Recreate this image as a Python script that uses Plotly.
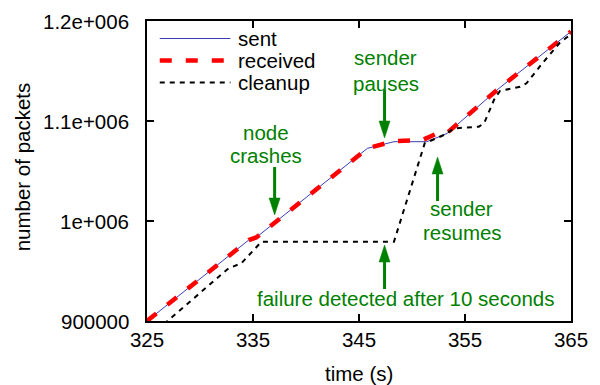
import plotly.graph_objects as go

# ---------------- data ----------------
sent_t = [325, 334.6, 335.3, 345.8, 348.3, 351.4, 353.3, 358.3, 365]
sent_v = [900000, 981000, 983500, 1072700, 1079300, 1079300, 1087500, 1133500, 1189500]

recv_t = [325, 334.6, 335.3, 345.8, 348.3, 351.0, 352.2, 353.3, 358.3, 365]
recv_v = [900000, 981000, 983500, 1072700, 1079800, 1081000, 1086800, 1088000, 1133500, 1189500]

clean_t = [326.6, 332.7, 333.9, 335.8, 348.3, 351.2, 353.0, 354.0, 356.3, 356.8,
           357.8, 358.3, 360.2, 360.8, 362.3, 363.2, 363.9, 365]
clean_v = [897000, 952700, 957700, 979300, 979300, 1077700, 1086000, 1092700, 1094300, 1097700,
           1122700, 1130000, 1134300, 1137700, 1157700, 1169300, 1177700, 1187000]

x_ticks = [325, 335, 345, 355, 365]
y_ticks = [900000, 1000000, 1100000, 1200000]
y_ticktext = ["900000", "1e+006", "1.1e+006", "1.2e+006"]

series_names = ["sent", "received", "cleanup"]

# annotation arrows: (tip time, tip value, direction)
arrow_tips = [(337.04, 1006000, "down"), (347.41, 1083000, "down"),
              (352.41, 1064000, "up"), (347.41, 976000, "up")]

# ---------------- layout geometry ----------------
W, H = 600, 385
L, R, T, B = 147, 21, 21, 64
PW, PH = W - L - R, H - T - B
FONT = "Liberation Sans, Arial, sans-serif"
FS = 20.5
GREEN = "#008000"


def px(xp):
    return (xp - L) / PW


def py(yp):
    return (H - B - yp) / PH


fig = go.Figure()
fig.add_trace(go.Scatter(x=sent_t, y=sent_v, mode="lines", name=series_names[0],
                         line=dict(color="#3c3cb4", width=1)))
fig.add_trace(go.Scatter(x=recv_t, y=recv_v, mode="lines", name=series_names[1],
                         line=dict(color="#ff0000", width=4.5, dash="12px,14px")))
fig.add_trace(go.Scatter(x=clean_t, y=clean_v, mode="lines", name=series_names[2],
                         line=dict(color="#000000", width=2, dash="5px,5px")))

shapes = []
annotations = []

# manual legend
leg_styles = [dict(color="#3c3cb4", width=1),
              dict(color="#ff0000", width=4.5, dash="12px,14px"),
              dict(color="#000000", width=2, dash="5px,5px")]
leg_y = [38.5, 60.5, 82.5]
for name, st, yy in zip(series_names, leg_styles, leg_y):
    shapes.append(dict(type="line", xref="paper", yref="paper",
                       x0=px(160), x1=px(232), y0=py(yy), y1=py(yy), line=st))
    annotations.append(dict(text=name, xref="paper", yref="paper", x=px(238), y=py(yy),
                            xanchor="left", yanchor="middle", showarrow=False,
                            font=dict(family=FONT, size=FS, color="black")))

# arrows (shaft + head), sized in pixels
for t, v, d in arrow_tips:
    s = 1 if d == "down" else -1
    length = 48 if d == "down" else 44
    shapes.append(dict(type="line", xref="x", yref="y", xsizemode="pixel", ysizemode="pixel",
                       xanchor=t, yanchor=v, x0=0, x1=0, y0=s * 14, y1=s * length,
                       line=dict(color=GREEN, width=3)))
    shapes.append(dict(type="path", xref="x", yref="y", xsizemode="pixel", ysizemode="pixel",
                       xanchor=t, yanchor=v,
                       path=f"M-5.5,{s*17} L5.5,{s*17} L0,0 Z",
                       fillcolor=GREEN, line=dict(color=GREEN, width=0.5)))

# green labels
labels = [("node", 268, 132), ("crashes", 268, 155),
          ("sender", 390, 58), ("pauses", 390, 83),
          ("sender", 467, 208), ("resumes", 468, 232),
          ("failure detected after 10 seconds", 410, 298)]
for txt, xx, yy in labels:
    annotations.append(dict(text=txt, xref="paper", yref="paper", x=px(xx), y=py(yy),
                            xanchor="center", yanchor="middle", showarrow=False,
                            font=dict(family=FONT, size=FS, color=GREEN)))

# y tick labels (placed through the y scale)
for val, txt in zip(y_ticks, y_ticktext):
    annotations.append(dict(text=txt, xref="paper", yref="y", x=px(129), y=val,
                            xanchor="right", yanchor="middle", showarrow=False,
                            borderpad=0, borderwidth=0,
                            font=dict(family=FONT, size=FS, color="black")))

# axis titles
annotations.append(dict(text="time (s)", xref="paper", yref="paper", x=px(363), y=py(373),
                        xanchor="center", yanchor="middle", showarrow=False,
                        font=dict(family=FONT, size=FS, color="black")))
annotations.append(dict(text="number of packets", xref="paper", yref="paper", x=px(20), y=py(167),
                        xanchor="center", yanchor="middle", showarrow=False, textangle=-90,
                        font=dict(family=FONT, size=FS, color="black")))

fig.update_layout(
    width=W, height=H,
    margin=dict(l=L, r=R, t=T, b=B),
    paper_bgcolor="white", plot_bgcolor="white",
    showlegend=False,
    font=dict(family=FONT, size=FS, color="black"),
    shapes=shapes, annotations=annotations,
)
fig.update_xaxes(range=[325, 365], tickvals=x_ticks, ticks="inside", ticklen=7, tickwidth=1.5,
                 tickcolor="black", showline=True, linecolor="black", linewidth=1.5,
                 mirror="ticks", showgrid=False, zeroline=False,
                 tickfont=dict(family=FONT, size=FS, color="black"))
fig.update_yaxes(range=[900000, 1200000], tickvals=y_ticks, showticklabels=False,
                 ticks="inside", ticklen=7, tickwidth=1.5,
                 tickcolor="black", showline=True, linecolor="black", linewidth=1.5,
                 mirror="ticks", showgrid=False, zeroline=False)

fig.write_html("out.html")
